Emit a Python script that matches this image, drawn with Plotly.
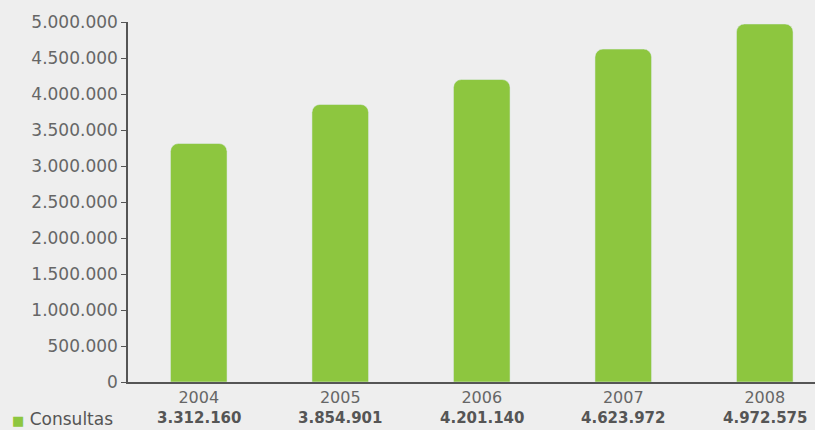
import plotly.graph_objects as go

years = ["2004", "2005", "2006", "2007", "2008"]
consultas = [3312160, 3854901, 4201140, 4623972, 4972575]
series_name = "Consultas"
y_ticks = [0, 500000, 1000000, 1500000, 2000000, 2500000, 3000000, 3500000, 4000000, 4500000, 5000000]

GREEN = "#8DC63F"
BG = "#EEEEEE"
FONT = "DejaVu Sans"

def fmt(v):
    return f"{v:,}".replace(",", ".")

fig = go.Figure()
fig.add_trace(go.Bar(x=list(range(len(years))), y=consultas, marker_color=GREEN,
                     width=0.4, name=series_name, showlegend=False))

annotations = []
for i, v in enumerate(consultas):
    annotations.append(dict(x=i, y=0, xref="x", yref="paper", yshift=-36,
                            text=f"<b>{fmt(v)}</b>", showarrow=False,
                            font=dict(family=FONT, size=15, color="#555555"),
                            xanchor="center", yanchor="middle"))
annotations.append(dict(x=0, y=0, xref="paper", yref="paper", xshift=-118, yshift=-37,
                        text=f"<span style='color:{GREEN};font-size:13px'>■</span> {series_name}",
                        showarrow=False, xanchor="left", yanchor="middle",
                        font=dict(family=FONT, size=17, color="#555555")))

fig.update_layout(
    width=815, height=430,
    paper_bgcolor=BG, plot_bgcolor=BG,
    margin=dict(l=128, r=0, t=22, b=48),
    barcornerradius=8,
    separators=",.",
    font=dict(family=FONT, color="#666666"),
    xaxis=dict(range=[-0.5, 4.355], tickvals=list(range(len(years))), ticktext=years,
               showgrid=False, zeroline=False, showline=True, linecolor="#555555", linewidth=1.5,
               ticks="", tickfont=dict(size=16, color="#666666")),
    yaxis=dict(range=[0, 5000000], tickvals=y_ticks, ticktext=[fmt(t) for t in y_ticks],
               showgrid=False, zeroline=False, showline=True, linecolor="#555555", linewidth=1.5,
               ticks="outside", ticklen=5, tickcolor="#555555",
               tickfont=dict(size=17, color="#666666")),
    annotations=annotations,
)

fig.write_html("out.html", config={"displayModeBar": False},
               post_script="document.body.style.margin='0';document.body.style.background='#EEEEEE';")
